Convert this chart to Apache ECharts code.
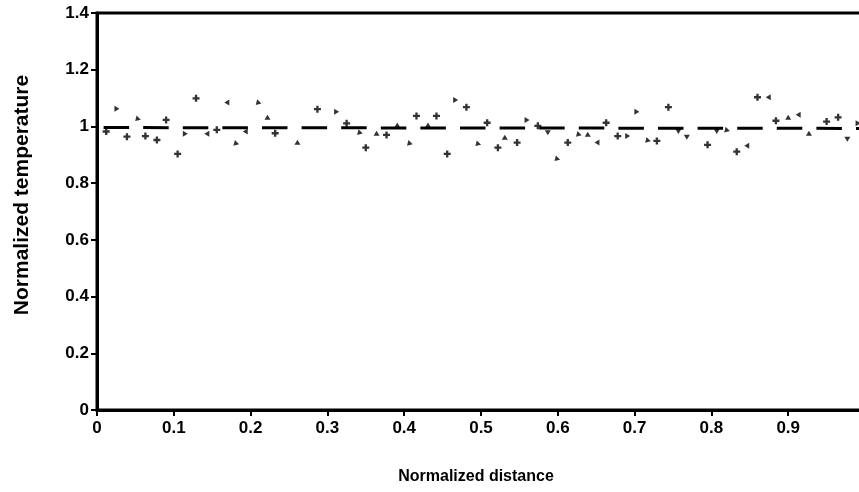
<!DOCTYPE html>
<html><head><meta charset="utf-8">
<script src="https://cdn.jsdelivr.net/npm/echarts@6/dist/echarts.min.js"></script>
<style>html,body{margin:0;padding:0;background:#fff}#c{width:859px;height:492px}</style>
</head><body><div id="c"></div>
<script>
const xTicks = [0,0.1,0.2,0.3,0.4,0.5,0.6,0.7,0.8,0.9,1];
const yTicks = [0,0.2,0.4,0.6,0.8,1,1.2,1.4];
const xTitle = 'Normalized distance';
const yTitle = 'Normalized temperature';
const meanLine = [[0,0.996],[1,0.993]];
const plusPts = [[0.012,0.982],[0.039,0.964],[0.063,0.966],[0.078,0.952],[0.090,1.023],[0.105,0.903],[0.129,1.099],[0.156,0.988],[0.232,0.976],[0.287,1.061],[0.325,1.011],[0.350,0.925],[0.377,0.970],[0.416,1.037],[0.442,1.037],[0.456,0.903],[0.481,1.068],[0.508,1.013],[0.522,0.925],[0.547,0.943],[0.574,1.002],[0.613,0.943],[0.663,1.013],[0.678,0.966],[0.729,0.949],[0.744,1.068],[0.795,0.935],[0.833,0.911],[0.860,1.103],[0.884,1.020],[0.950,1.017],[0.965,1.032]];
const rightPts = [[0.026,1.062],[0.115,0.974],[0.312,1.052],[0.467,1.093],[0.560,1.023],[0.691,0.966],[0.703,1.052],[0.991,1.011]];
const leftPts = [[0.143,0.974],[0.169,1.084],[0.193,0.982],[0.651,0.943],[0.846,0.932],[0.874,1.103],[0.913,1.041]];
const upPts = [[0.222,1.032],[0.261,0.944],[0.364,0.976],[0.391,1.005],[0.431,1.005],[0.531,0.962],[0.639,0.972],[0.900,1.032],[0.927,0.976]];
const downPts = [[0.587,0.978],[0.757,0.982],[0.768,0.962],[0.807,0.982],[0.977,0.955]];
const cornerPts = [[0.052,1.025],[0.180,0.938],[0.209,1.082],[0.341,0.976],[0.406,0.938],[0.495,0.937],[0.598,0.884],[0.626,0.970],[0.716,0.949],[0.819,0.985]];

const chart = echarts.init(document.getElementById('c'), null, {renderer:'canvas'});
const FONT = '"Liberation Sans", Arial, sans-serif';
const plusPath = 'path://M-1.2,-3.6H1.2V-1.2H3.6V1.2H1.2V3.6H-1.2V1.2H-3.6V-1.2H-1.2Z';
function tri(name, data, rot) {
  return {type:'scatter', name, data, symbol:'triangle', symbolSize:[6,5], symbolRotate:rot,
    itemStyle:{color:'#000'}, z:5};
}
chart.setOption({
  animation:false,
  backgroundColor:'#fff',
  grid:{left:97, top:13, width:768, height:397, outerBoundsMode:'none', containLabel:false,
    show:true, borderColor:'#000', borderWidth:3, backgroundColor:'transparent'},
  graphic:[
    {type:'text', x:22, y:195, rotation:Math.PI/2,
      style:{text:yTitle, font:'bold 21px "Liberation Sans", Arial, sans-serif', fill:'#000',
        align:'center', verticalAlign:'middle'}},
    {type:'text', x:476, y:477,
      style:{text:xTitle, font:'bold 16px "Liberation Sans", Arial, sans-serif', fill:'#000',
        align:'center', verticalAlign:'middle'}}
  ],
  xAxis:{type:'value', min:xTicks[0], max:xTicks[xTicks.length-1], interval:0.1,
    axisLine:{show:true, lineStyle:{color:'#000', width:3}},
    axisTick:{show:true, length:6, lineStyle:{color:'#000', width:2}},
    axisLabel:{fontFamily:FONT, fontWeight:'bold', fontSize:17, color:'#000', margin:10,
      formatter:v=>String(Math.round(v*10)/10)},
    splitLine:{show:false}},
  yAxis:{type:'value', min:yTicks[0], max:yTicks[yTicks.length-1], interval:0.2,
    axisLine:{show:true, lineStyle:{color:'#000', width:3}},
    axisTick:{show:true, length:6, lineStyle:{color:'#000', width:2}},
    axisLabel:{fontFamily:FONT, fontWeight:'bold', fontSize:17, color:'#000', margin:8,
      formatter:v=>String(Math.round(v*10)/10)},
    splitLine:{show:false}},
  series:[
    {type:'line', data:meanLine, symbol:'none', z:3,
      lineStyle:{color:'#000', width:3, type:[25.5,14.1], dashOffset:33}},
    {type:'scatter', name:'plus', data:plusPts, symbol:plusPath, symbolSize:7, itemStyle:{color:'#000'}, z:5},
    tri('right', rightPts, -90),
    tri('left', leftPts, 90),
    tri('up', upPts, 0),
    tri('down', downPts, 180),
    tri('corner', cornerPts, 135)
  ]
});
</script></body></html>
